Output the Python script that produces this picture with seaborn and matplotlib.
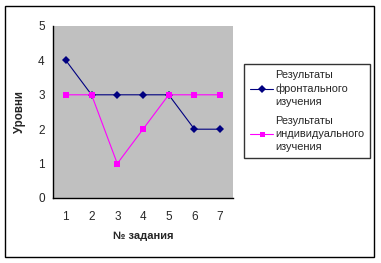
import matplotlib
matplotlib.use("Agg")
import matplotlib.pyplot as plt
import seaborn as sns
import pandas as pd
from matplotlib.patches import Rectangle

tasks = [1, 2, 3, 4, 5, 6, 7]
frontal = [4, 3, 3, 3, 3, 2, 2]
individual = [3, 3, 1, 2, 3, 3, 3]
series_names = ["Результаты\nфронтального\nизучения", "Результаты\nиндивидуального\nизучения"]
y_ticks = [0, 1, 2, 3, 4, 5]

sns.set_style("white")
plt.rcParams['font.family'] = ['Liberation Sans', 'DejaVu Sans']

df = pd.DataFrame({
    "task": tasks * 2,
    "value": frontal + individual,
    "series": [series_names[0]] * len(tasks) + [series_names[1]] * len(tasks),
})

fig = plt.figure(figsize=(3.81, 2.63), dpi=100)
ax = fig.add_axes([53/381, 1 - 198/263, 180/381, 172/263])
ax.set_facecolor("#C0C0C0")

sns.lineplot(data=df, x="task", y="value", hue="series", style="series",
             palette=["#000080", "#FF00FF"], markers=["D", "s"], dashes=False,
             markersize=4.5, linewidth=0.8, markeredgewidth=0, ax=ax, legend=True)

ax.set_xlim(0.5, 7.5)
ax.set_ylim(0, 5)
ax.set_yticks(y_ticks)
ax.set_xticks([x + 0.5 for x in [0] + tasks])
ax.set_xticklabels([])
ax.set_xticks(tasks, minor=True)
ax.set_xticklabels([str(t) for t in tasks], minor=True)
ax.tick_params(axis="x", which="major", length=4, width=1, color="black", direction="out")
ax.tick_params(axis="x", which="minor", length=0, labelsize=8.5, pad=9)
ax.tick_params(axis="y", length=4, width=1, color="black", direction="out", labelsize=8.5, pad=2)
ax.grid(False)
for s in ["top", "right"]:
    ax.spines[s].set_visible(False)
for s in ["left", "bottom"]:
    ax.spines[s].set_color("black")
    ax.spines[s].set_linewidth(1)

ax.set_xlabel("№ задания", fontsize=8, fontweight="bold", labelpad=6)
ax.set_ylabel("Уровни", fontsize=8.3, fontweight="bold", labelpad=9)

handles, labels = ax.get_legend_handles_labels()
ax.get_legend().remove()
leg = fig.legend(handles, labels, loc="upper left",
                 bbox_to_anchor=(244/381, 1 - 64/263), fontsize=7.9,
                 frameon=True, fancybox=False, edgecolor="black",
                 handlelength=2.1, handletextpad=0.2, borderpad=0.55,
                 labelspacing=0.8, borderaxespad=0, markerscale=0.8)
for t in leg.get_texts():
    t.set_linespacing(1.4)
leg.get_frame().set_linewidth(1)

fig.patches.append(Rectangle((5/381, 6/263), 369/381, 251/263, transform=fig.transFigure,
                             fill=False, edgecolor="black", linewidth=1))

fig.savefig("out.png", dpi=100)
